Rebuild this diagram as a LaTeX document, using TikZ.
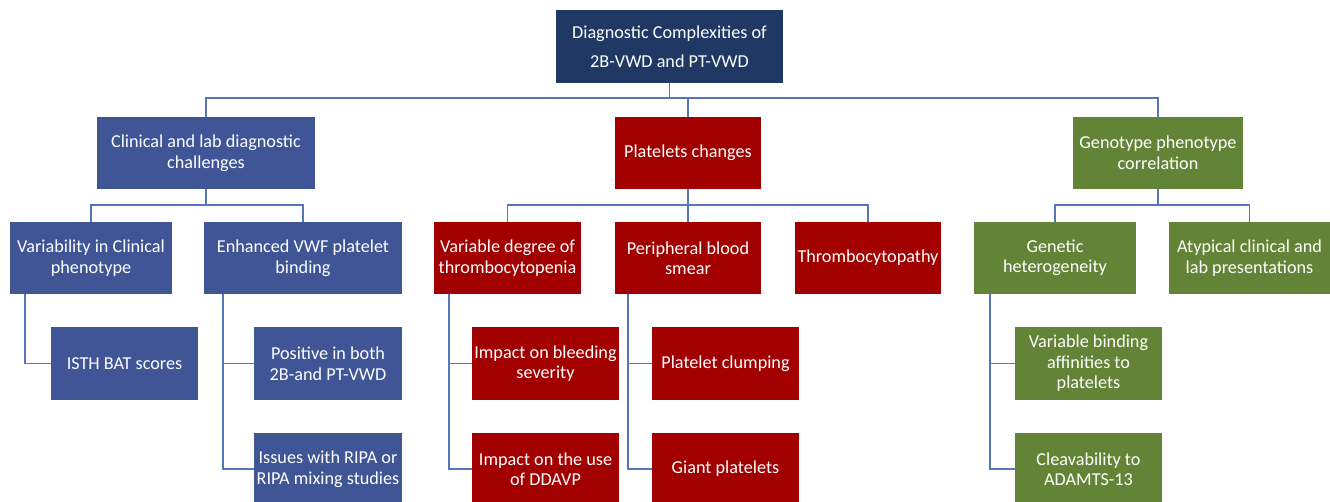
\documentclass[tikz,border=0pt]{standalone}
\usepackage{fontspec}
\setmainfont{Carlito}
\definecolor{navy}{HTML}{1F3864}
\definecolor{bbox}{HTML}{3F5596}
\definecolor{rbox}{HTML}{A20000}
\definecolor{gbox}{HTML}{638436}
\definecolor{conn}{HTML}{5575BD}
\tikzset{
  box/.style={fill=#1, text=white, align=center, inner sep=0pt, minimum height=72pt,
    font=\fontsize{18.2}{20.5}\selectfont},
  link/.style={draw=conn, line width=1.5pt}
}
\begin{document}
\begin{tikzpicture}[x=1pt,y=-1pt]
\useasboundingbox (0,0) rectangle (1330,502);
\begin{scope}
\clip (0,0) rectangle (1330,502);
% level 1
\node[box=navy, minimum width=227pt, minimum height=73pt, font=\fontsize{18.2}{29}\selectfont] (top) at (669.5,46.5) {Diagnostic Complexities of\\2B-VWD and PT-VWD};
% level 2
\node[box=bbox, minimum width=218pt] (clin) at (206,153) {Clinical and lab diagnostic\\challenges};
\node[box=rbox, minimum width=146pt] (plat) at (688,153) {Platelets changes};
\node[box=gbox, minimum width=170pt] (geno) at (1158,153) {Genotype phenotype\\correlation};
% level 3
\node[box=bbox, minimum width=162pt] (var) at (91,258) {Variability in Clinical\\phenotype};
\node[box=bbox, minimum width=198pt] (enh) at (303,258) {Enhanced VWF platelet\\binding};
\node[box=rbox, minimum width=147pt] (vdt) at (507.5,258) {Variable degree of\\thrombocytopenia};
\node[box=rbox, minimum width=146pt] (pbs) at (688,258) {Peripheral blood\\smear};
\node[box=rbox, minimum width=146pt] (thr) at (868,258) {Thrombocytopathy};
\node[box=gbox, minimum width=162pt] (gen) at (1055,258) {Genetic\\heterogeneity};
\node[box=gbox, minimum width=161pt] (aty) at (1249.5,258) {Atypical clinical and\\lab presentations};
% level 4
\node[box=bbox, minimum width=147pt, minimum height=73pt] (isth) at (124.5,363.5) {ISTH BAT scores};
\node[box=bbox, minimum width=148pt, minimum height=73pt] (pos) at (328,363.5) {Positive in\ both\\2B-and PT-VWD};
\node[box=bbox, minimum width=148pt] (iss) at (328,469) {Issues with RIPA or\\RIPA mixing studies};
\node[box=rbox, minimum width=147pt, minimum height=73pt] (imp1) at (545.5,363.5) {Impact on bleeding\\severity};
\node[box=rbox, minimum width=147pt] (imp2) at (545.5,469) {Impact on the use\\of DDAVP};
\node[box=rbox, minimum width=147pt, minimum height=73pt] (clump) at (725.5,363.5) {Platelet clumping};
\node[box=rbox, minimum width=147pt] (giant) at (725.5,469) {Giant platelets};
\node[box=gbox, minimum width=147pt, minimum height=73pt] (vba) at (1088.5,363.5) {Variable binding\\affinities to\\platelets};
\node[box=gbox, minimum width=147pt] (clv) at (1088.5,469) {Cleavability to\\ADAMTS-13};
% bus coordinates
\coordinate (bus1) at (0,98);
\coordinate (busB) at (0,205);
% connectors level 1-2
\draw[link] (top.south) -- (top.south |- bus1);
\draw[link] (clin.north) -- (clin.north |- bus1) -- (geno.north |- bus1) -- (geno.north);
\draw[link] (plat.north) -- (plat.north |- bus1);
% connectors level 2-3
\draw[link] (clin.south) -- (clin.south |- busB);
\draw[link] (var.north) -- (var.north |- busB) -- (enh.north |- busB) -- (enh.north);
\draw[link] (plat.south) -- (pbs.north);
\draw[link] (vdt.north) -- (vdt.north |- busB) -- (thr.north |- busB) -- (thr.north);
\draw[link] (geno.south) -- (geno.south |- busB);
\draw[link] (gen.north) -- (gen.north |- busB) -- (aty.north |- busB) -- (aty.north);
% connectors level 3-4
\draw[link] ([xshift=15pt]var.south west) |- (isth.west);
\draw[link] ([xshift=19pt]enh.south west) |- (pos.west);
\draw[link] ([xshift=19pt]enh.south west) |- (iss.west);
\draw[link] ([xshift=15pt]vdt.south west) |- (imp1.west);
\draw[link] ([xshift=15pt]vdt.south west) |- (imp2.west);
\draw[link] ([xshift=13pt]pbs.south west) |- (clump.west);
\draw[link] ([xshift=13pt]pbs.south west) |- (giant.west);
\draw[link] ([xshift=16pt]gen.south west) |- (vba.west);
\draw[link] ([xshift=16pt]gen.south west) |- (clv.west);
\end{scope}
\end{tikzpicture}
\end{document}
